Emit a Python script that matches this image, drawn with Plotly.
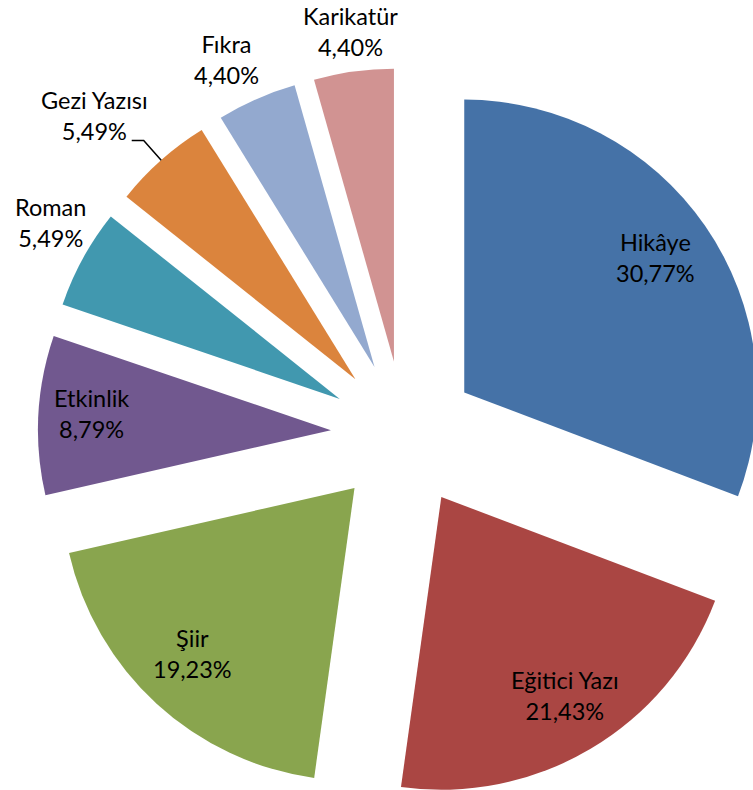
import math
import plotly.graph_objects as go

labels = ["Hikâye", "Eğitici Yazı", "Şiir", "Etkinlik", "Roman", "Gezi Yazısı", "Fıkra", "Karikatür"]
values = [30.77, 21.43, 19.23, 8.79, 5.49, 5.49, 4.40, 4.40]
colors = ["#4572A7", "#AA4643", "#89A54E", "#71588F", "#4198AF", "#DB843D", "#93A9CF", "#D19392"]

# label placement (fraction of radius from the pulled slice apex, angular tweak in degrees)
label_k = [0.80, 0.80, 0.79, 0.82, 1.157, 1.268, 1.167, 1.137]
label_dtheta = [-0.7, -1.3, 1.8, 1.0, 2.8, -3.1, -2.0, 0.4]

PULL = 0.25
W, H = 772, 802
ML, MR, MT, MB = 37.75, 1.75, 67.75, 1.5
FONT = "Lato"
FSIZE = 23.5

pw = W - ML - MR
ph = H - MT - MB
cx = ML + pw / 2
cy = MT + ph / 2
R = min(pw, ph) / 2 / (1 + PULL)

fig = go.Figure(go.Pie(
    labels=labels,
    values=values,
    sort=False,
    direction="clockwise",
    rotation=0,
    pull=PULL,
    marker=dict(colors=colors, line=dict(width=0)),
    textinfo="none",
    hoverinfo="label+value",
    showlegend=False,
))


def to_paper(px, py):
    return (px - ML) / pw, 1 - (py - MT) / ph


total = sum(values)
cum = 0.0
annotations = []
shapes = []
for i, (lab, val) in enumerate(zip(labels, values)):
    mid = (cum + val / 2) / total * 2 * math.pi
    cum += val
    ux, uy = math.sin(mid), -math.cos(mid)
    ax, ay = cx + PULL * R * ux, cy + PULL * R * uy
    th = mid + math.radians(label_dtheta[i])
    px = ax + label_k[i] * R * math.sin(th)
    py = ay - label_k[i] * R * math.cos(th)
    x, y = to_paper(px, py)
    txt = f"{lab}<br>{val:.2f}%".replace(".", ",")
    annotations.append(dict(
        x=x, y=y, xref="paper", yref="paper", text=txt, showarrow=False,
        xanchor="center", yanchor="middle", align="center",
        font=dict(family=FONT, size=FSIZE, color="#000000"),
    ))
    if lab == "Gezi Yazısı":
        p0 = (ax + R * ux, ay + R * uy)
        p1 = (ax + 1.09 * R * ux, ay + 1.09 * R * uy)
        p2 = (p1[0] - 12, p1[1])
        pts = [to_paper(*p) for p in (p0, p1, p2)]
        path = "M {} {} L {} {} L {} {}".format(
            pts[0][0], pts[0][1], pts[1][0], pts[1][1], pts[2][0], pts[2][1])
        shapes.append(dict(type="path", path=path, xref="paper", yref="paper",
                           line=dict(color="#000000", width=1.5)))

fig.update_layout(
    width=W,
    height=H,
    margin=dict(l=ML, r=MR, t=MT, b=MB, autoexpand=False),
    paper_bgcolor="#FFFFFF",
    plot_bgcolor="#FFFFFF",
    separators=",.",
    font=dict(family=FONT, size=FSIZE, color="#000000"),
    annotations=annotations,
    shapes=shapes,
)

fig.write_html(
    "out.html",
    config={"displayModeBar": False},
    post_script="document.body.style.margin='0';document.body.style.overflow='hidden';document.documentElement.style.overflow='hidden';",
)
